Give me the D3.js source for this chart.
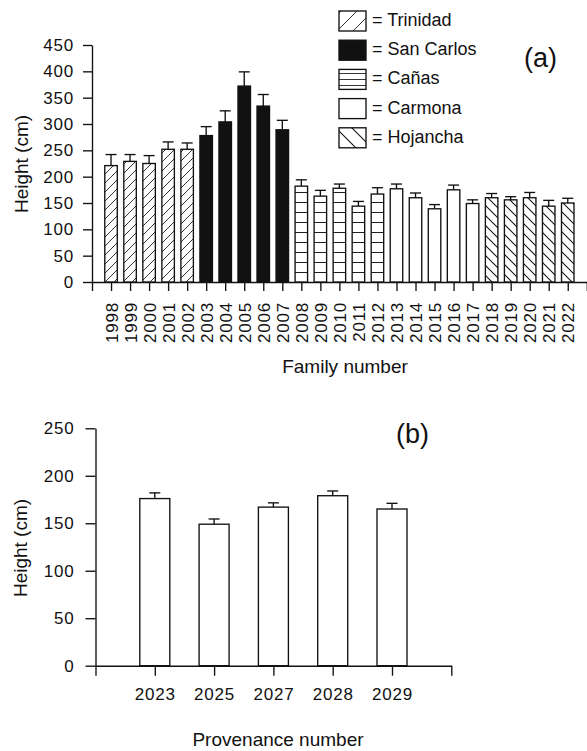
<!DOCTYPE html>
<html>
<head>
<meta charset="utf-8">
<script src="https://cdn.jsdelivr.net/npm/d3@7"></script>
<style>
  html, body { margin: 0; padding: 0; background: #fff; }
  svg { display: block; }
  text { font-family: "Liberation Sans", Arial, Helvetica, sans-serif; fill: #111; }
</style>
</head>
<body>
<svg id="chart" width="587" height="751"></svg>
<script>
// ---------- DATA ----------
const families = ["1998","1999","2000","2001","2002","2003","2004","2005","2006","2007",
                  "2008","2009","2010","2011","2012","2013","2014","2015","2016","2017",
                  "2018","2019","2020","2021","2022"];
const familyGroup = ["Trinidad","Trinidad","Trinidad","Trinidad","Trinidad",
                     "San Carlos","San Carlos","San Carlos","San Carlos","San Carlos",
                     "Cañas","Cañas","Cañas","Cañas","Cañas",
                     "Carmona","Carmona","Carmona","Carmona","Carmona",
                     "Hojancha","Hojancha","Hojancha","Hojancha","Hojancha"];
const familyHeight = [221,229,225,252,252, 278,304,372,334,289, 182,163,178,144,167,
                      177,160,139,175,149, 160,156,160,144,150];
const familyError  = [21,13,15,14,12, 17,21,27,22,18, 12,11,8,9,12,
                      9,9,8,9,7, 8,6,10,11,9];
const groups = ["Trinidad","San Carlos","Cañas","Carmona","Hojancha"];
const yTicksA = [0,50,100,150,200,250,300,350,400,450];

const provenances = ["2023","2025","2027","2028","2029"];
const provHeight = [176,149,167,179,165];
const provError  = [6,5.5,4.5,5,6];
const yTicksB = [0,50,100,150,200,250];

// ---------- SETUP ----------
const svg = d3.select("#chart");
const defs = svg.append("defs");
const INK = "#111";
const SW = 1.35;

function diagPattern(id, size, dir, sw) {
  const p = defs.append("pattern").attr("id", id).attr("patternUnits", "userSpaceOnUse")
    .attr("width", size).attr("height", size);
  p.append("rect").attr("width", size).attr("height", size).attr("fill", "#fff");
  const lines = dir === "/" ?
    [[-1,size+1,size+1,-1],[-1,1,1,-1],[size-1,size+1,size+1,size-1]] :
    [[-1,-1,size+1,size+1],[-1,size-1,1,size+1],[size-1,-1,size+1,1]];
  lines.forEach(l => p.append("line").attr("x1",l[0]).attr("y1",l[1]).attr("x2",l[2]).attr("y2",l[3])
    .attr("stroke", INK).attr("stroke-width", sw));
}
function hPattern(id, size, yoff, sw) {
  const p = defs.append("pattern").attr("id", id).attr("patternUnits", "userSpaceOnUse")
    .attr("width", 20).attr("height", size).attr("y", yoff);
  p.append("rect").attr("width", 20).attr("height", size).attr("fill", "#fff");
  p.append("line").attr("x1",0).attr("x2",20).attr("y1",0).attr("y2",0)
    .attr("stroke", INK).attr("stroke-width", sw*2);
}
diagPattern("pTri", 9, "/", 0.85);
diagPattern("pHoj", 10, "\\", 1.05);
hPattern("pCan", 10, 2, 0.95);
diagPattern("pTriL", 16, "/", 0.85);
diagPattern("pHojL", 16, "\\", 1.05);
hPattern("pCanL", 6, 1, 0.85);

const fillOf = {"Trinidad":"url(#pTri)","San Carlos":INK,"Cañas":"url(#pCan)","Carmona":"#fff","Hojancha":"url(#pHoj)"};
const legendFill = {"Trinidad":"url(#pTriL)","San Carlos":INK,"Cañas":"url(#pCanL)","Carmona":"#fff","Hojancha":"url(#pHojL)"};

function styleAxis(g) {
  g.selectAll("path.domain").attr("stroke", INK).attr("stroke-width", SW);
  g.selectAll(".tick line").attr("stroke", INK).attr("stroke-width", SW);
  g.selectAll(".tick text").style("font-size", "17px").style("letter-spacing", "0.8px").attr("fill", INK);
}

// ---------- CHART (a) ----------
const yA = d3.scaleLinear().domain([0,450]).range([282,45]);
const slotsA = ["_L", ...families, "_R"];
const xA = d3.scalePoint().domain(slotsA).range([92, 92 + 26*19.03]);

const gyA = svg.append("g").attr("transform", `translate(${xA("_L")},0)`)
  .call(d3.axisLeft(yA).tickValues(yTicksA).tickSize(9).tickSizeOuter(0).tickPadding(9));
styleAxis(gyA);

const gxA = svg.append("g").attr("transform", `translate(0,${yA(0)})`)
  .call(d3.axisBottom(xA).tickValues(slotsA).tickSize(9).tickSizeOuter(0)
        .tickFormat(d => d.startsWith("_") ? "" : d));
styleAxis(gxA);
gxA.selectAll(".tick text")
  .attr("transform", "rotate(-90)").attr("x", -20).attr("y", 0)
  .attr("dy", "0.36em").attr("text-anchor", "end");

const bwA = 12.5;
const barsA = svg.append("g");
families.forEach((f, i) => {
  const xc = xA(f);
  barsA.append("rect").attr("x", xc - bwA/2).attr("y", yA(familyHeight[i]))
    .attr("width", bwA).attr("height", yA(0) - yA(familyHeight[i]))
    .attr("fill", fillOf[familyGroup[i]]).attr("stroke", INK).attr("stroke-width", SW);
  const top = yA(familyHeight[i] + familyError[i]);
  barsA.append("line").attr("x1", xc).attr("x2", xc).attr("y1", yA(familyHeight[i])).attr("y2", top)
    .attr("stroke", INK).attr("stroke-width", SW);
  barsA.append("line").attr("x1", xc - 5.5).attr("x2", xc + 5.5).attr("y1", top).attr("y2", top)
    .attr("stroke", INK).attr("stroke-width", SW);
});

svg.append("text").attr("transform", "translate(28,164) rotate(-90)")
  .attr("text-anchor", "middle").style("font-size", "19px").text("Height (cm)");
svg.append("text").attr("x", 345).attr("y", 373)
  .attr("text-anchor", "middle").style("font-size", "19px").text("Family number");
svg.append("text").attr("x", 524).attr("y", 67)
  .style("font-size", "27px").text("(a)");

// legend
const leg = svg.append("g");
groups.forEach((g, i) => {
  const base = 26 + i * 29.2;
  leg.append("rect").attr("x", 339).attr("y", base - 15).attr("width", 27).attr("height", 20)
    .attr("fill", legendFill[g]).attr("stroke", INK).attr("stroke-width", SW);
  leg.append("text").attr("x", 372).attr("y", base).style("font-size", "18px").text("= " + g);
});

// ---------- CHART (b) ----------
const yB = d3.scaleLinear().domain([0,250]).range([665.7,428.3]);
const slotsB = ["_L", ...provenances, "_R"];
const xB = d3.scalePoint().domain(slotsB).range([95.5, 95.5 + 6*59.3]);

const gyB = svg.append("g").attr("transform", `translate(${xB("_L")},0)`)
  .call(d3.axisLeft(yB).tickValues(yTicksB).tickSize(10).tickSizeOuter(0).tickPadding(11));
styleAxis(gyB);

const gxB = svg.append("g").attr("transform", `translate(0,${yB(0)})`)
  .call(d3.axisBottom(xB).tickValues(slotsB).tickSize(10).tickSizeOuter(0).tickPadding(12)
        .tickFormat(d => d.startsWith("_") ? "" : d));
styleAxis(gxB);

const bwB = 30;
const barsB = svg.append("g");
provenances.forEach((p, i) => {
  const xc = xB(p);
  barsB.append("rect").attr("x", xc - bwB/2).attr("y", yB(provHeight[i]))
    .attr("width", bwB).attr("height", yB(0) - yB(provHeight[i]))
    .attr("fill", "#fff").attr("stroke", INK).attr("stroke-width", SW);
  const top = yB(provHeight[i] + provError[i]);
  barsB.append("line").attr("x1", xc).attr("x2", xc).attr("y1", yB(provHeight[i])).attr("y2", top)
    .attr("stroke", INK).attr("stroke-width", SW);
  barsB.append("line").attr("x1", xc - 5.5).attr("x2", xc + 5.5).attr("y1", top).attr("y2", top)
    .attr("stroke", INK).attr("stroke-width", SW);
});

svg.append("text").attr("transform", "translate(27,548) rotate(-90)")
  .attr("text-anchor", "middle").style("font-size", "19px").text("Height (cm)");
svg.append("text").attr("x", 278).attr("y", 746)
  .attr("text-anchor", "middle").style("font-size", "19px").text("Provenance number");
svg.append("text").attr("x", 396).attr("y", 443)
  .style("font-size", "27px").text("(b)");
</script>
</body>
</html>
